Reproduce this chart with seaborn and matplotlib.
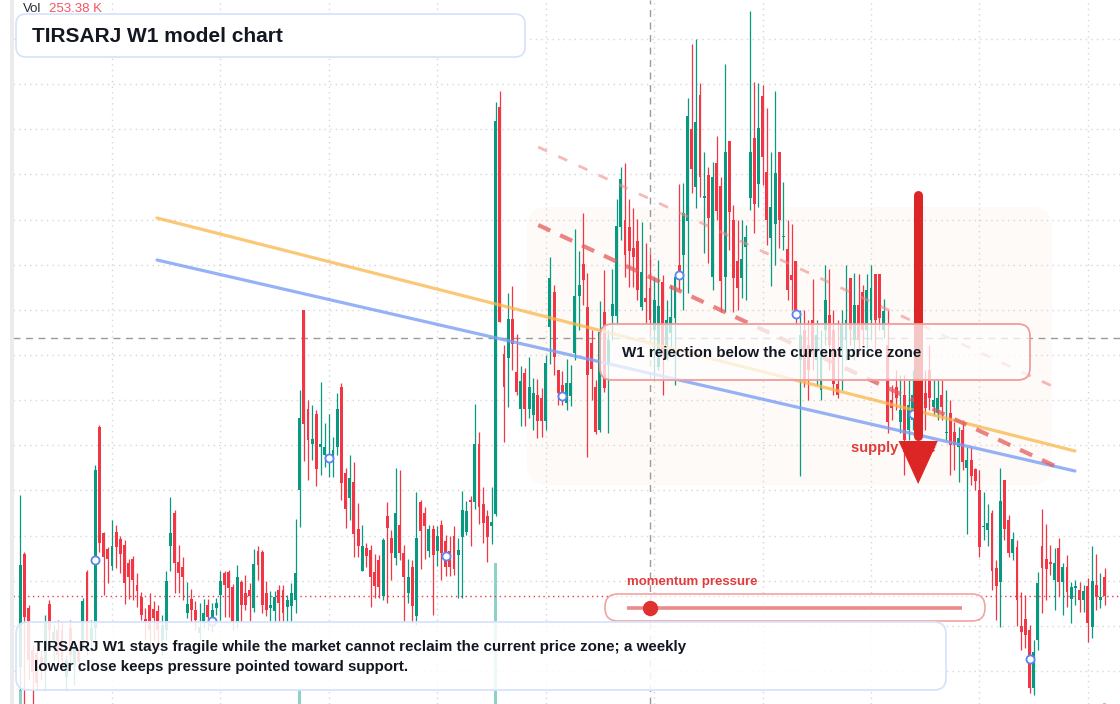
import numpy as np
import pandas as pd
import matplotlib
matplotlib.use("Agg")
import matplotlib.pyplot as plt
from matplotlib.patches import FancyBboxPatch, Rectangle
import seaborn as sns

# weekly candles
opens = [
    8.7, 20.0, 14.6, 10.4, 10.1, 9.7, 8.7, 15.0, 11.4, 12.4,
    12.4, 7.7, 12.6, 8.9, 10.4, 11.4, 18.2, 11.4, 12.6, 32.7,
    22.1, 20.5, 18.8, 22.2, 21.5, 20.9, 19.1, 19.5, 16.9, 15.7,
    13.5, 14.9, 14.5, 14.3, 11.4, 12.4, 20.8, 24.1, 19.2, 18.7,
    14.1, 15.5, 14.4, 12.1, 13.2, 14.9, 13.2, 14.6, 15.9, 18.1,
    18.2, 16.7, 13.2, 17.2, 16.1, 16.4, 14.6, 20.3, 20.2, 16.1,
    14.6, 14.3, 16.4, 16.4, 14.7, 14.8, 15.4, 26.4, 44.4, 34.5,
    31.0, 34.0, 30.7, 29.9, 29.4, 29.9, 30.7, 36.7, 28.1, 25.6,
    27.2, 22.5, 18.3, 20.6, 20.4, 18.2, 19.4, 15.8, 23.8, 21.6,
    19.6, 22.9, 20.1, 16.1, 18.7, 13.8, 25.2, 24.1, 20.3, 22.5,
    20.3, 22.9, 21.3, 20.3, 21.8, 19.9, 21.7, 22.2, 25.4, 25.2,
    31.0, 25.0, 23.8, 22.8, 24.0, 64.7, 40.0, 39.6, 43.5, 38.2,
    34.5, 38.1, 34.5, 33.9, 35.9, 35.6, 33.3, 42.7, 46.2, 38.4,
    36.9, 35.1, 35.8, 40.1, 45.8, 49.0, 44.7, 41.1, 36.7, 32.4,
    44.2, 38.9, 43.8, 43.8, 52.7, 53.4, 52.7, 50.6, 51.3, 44.7,
    45.6, 46.6, 42.4, 38.7, 47.2, 40.9, 42.1, 43.6, 48.9, 49.9,
    53.3, 62.5, 56.7, 65.9, 55.6, 57.9, 47.7, 59.1, 56.8, 47.7,
    61.3, 53.4, 49.3, 47.6, 50.7, 55.6, 61.6, 57.0, 65.8, 58.2,
    51.6, 53.0, 60.2, 51.7, 50.5, 47.9, 49.3, 39.4, 42.4, 40.9,
    43.4, 39.4, 36.4, 42.4, 43.9, 42.4, 37.0, 40.4, 41.4, 47.6,
    41.4, 44.9, 46.2, 42.4, 43.4, 48.0, 48.0, 42.4, 40.9, 35.4,
    36.7, 33.2, 35.9, 32.4, 33.4, 37.4, 37.4, 36.1, 38.4, 34.7,
    34.1, 35.9, 32.1, 34.1, 32.2, 30.7, 32.4, 28.6, 29.4, 28.5,
    26.4, 22.7, 22.4, 24.1, 18.6, 17.2, 27.4, 23.4, 20.1, 20.7,
    12.8, 13.5, 12.4, 6.6, 11.4, 20.8, 19.5, 19.2, 17.4, 20.6,
    17.2, 18.7, 15.5, 16.6, 16.4, 15.4, 16.8, 12.7, 16.9, 15.4,
    17.7,
]
highs = [
    25.9, 20.2, 14.9, 10.9, 11.4, 10.4, 13.9, 15.4, 12.9, 13.4,
    13.2, 9.9, 13.4, 11.4, 11.4, 15.6, 18.4, 13.4, 28.9, 32.9,
    22.2, 20.7, 23.4, 22.9, 21.8, 21.4, 19.5, 19.8, 18.1, 16.2,
    14.6, 16.1, 15.3, 14.9, 13.9, 18.3, 25.7, 24.4, 20.9, 19.7,
    17.2, 16.5, 15.3, 15.1, 15.5, 15.5, 15.1, 15.6, 18.3, 18.3,
    18.4, 17.0, 18.9, 17.4, 17.9, 17.1, 20.5, 20.8, 20.4, 17.3,
    16.3, 16.3, 16.9, 16.9, 15.9, 17.1, 23.5, 36.4, 44.4, 35.4,
    34.9, 34.4, 37.2, 33.1, 34.0, 31.7, 36.1, 37.1, 28.6, 29.9,
    29.2, 25.1, 22.9, 21.1, 20.9, 20.0, 19.9, 21.6, 25.2, 22.4,
    28.6, 28.4, 20.9, 19.5, 19.4, 26.2, 25.4, 24.7, 22.9, 22.9,
    22.8, 23.4, 21.9, 21.8, 22.8, 21.6, 26.3, 25.3, 25.8, 35.0,
    32.2, 26.7, 24.4, 26.7, 65.2, 66.3, 40.9, 46.1, 46.8, 42.0,
    38.8, 38.6, 39.7, 37.6, 37.5, 36.6, 39.9, 49.7, 46.9, 38.4,
    38.3, 39.5, 38.9, 52.5, 50.3, 54.1, 48.1, 42.4, 37.4, 45.3,
    48.4, 42.4, 48.5, 55.5, 58.7, 59.1, 55.5, 54.6, 53.5, 53.2,
    51.1, 50.0, 47.7, 49.4, 47.9, 45.4, 46.9, 47.7, 57.0, 57.1,
    65.6, 71.0, 71.5, 67.1, 60.2, 58.7, 59.2, 61.8, 57.7, 69.0,
    61.3, 54.9, 53.4, 53.4, 52.9, 74.3, 67.2, 67.1, 66.9, 64.6,
    60.2, 66.3, 60.2, 57.2, 53.4, 53.0, 49.3, 44.4, 44.4, 43.4,
    47.5, 43.4, 42.4, 48.9, 48.5, 44.4, 43.4, 44.4, 48.9, 47.6,
    48.1, 48.0, 46.9, 48.0, 48.9, 48.0, 48.0, 45.5, 44.4, 36.9,
    38.4, 37.9, 37.9, 37.4, 38.4, 39.4, 39.4, 38.4, 40.9, 37.4,
    37.4, 37.4, 36.4, 35.4, 33.2, 32.7, 33.4, 30.7, 30.7, 28.6,
    28.4, 26.2, 25.0, 24.4, 19.4, 28.6, 27.4, 23.9, 22.2, 21.4,
    16.2, 15.9, 12.9, 11.4, 18.2, 24.5, 23.0, 20.9, 20.6, 21.6,
    19.1, 19.9, 17.2, 17.4, 17.2, 16.9, 17.6, 20.8, 20.0, 18.1,
    18.6,
]
lows = [
    6.4, 4.8, 7.4, 4.2, 6.4, 7.4, 6.4, 11.4, 9.4, 8.9,
    8.6, 6.4, 8.9, 6.9, 8.2, 10.4, 9.9, 10.2, 11.4, 20.2,
    15.9, 17.1, 18.4, 18.6, 18.1, 15.0, 15.5, 15.4, 14.7, 13.4,
    11.4, 10.4, 11.4, 10.4, 9.9, 11.4, 18.3, 16.1, 16.1, 15.4,
    13.6, 13.2, 12.4, 11.4, 12.6, 12.4, 12.2, 13.9, 13.4, 13.7,
    13.7, 12.4, 12.6, 13.2, 14.4, 13.2, 14.2, 17.4, 14.1, 13.8,
    13.2, 13.2, 13.2, 13.2, 13.2, 13.2, 14.1, 22.7, 29.3, 27.4,
    29.4, 26.8, 27.9, 28.7, 27.7, 27.7, 29.9, 25.4, 22.6, 23.4,
    19.7, 19.7, 18.3, 18.7, 14.7, 15.6, 15.6, 15.4, 15.1, 17.4,
    18.9, 19.4, 13.2, 15.1, 13.1, 12.9, 18.5, 19.5, 19.7, 13.9,
    18.8, 17.4, 17.8, 17.8, 17.9, 15.6, 15.6, 21.9, 20.8, 24.5,
    23.0, 21.1, 19.2, 21.0, 23.8, 43.2, 31.2, 34.7, 38.4, 35.9,
    32.8, 32.8, 33.6, 32.4, 31.6, 31.7, 32.4, 39.0, 37.9, 34.9,
    34.9, 34.4, 34.8, 39.4, 42.4, 44.9, 29.7, 35.4, 32.0, 32.2,
    36.2, 32.1, 41.4, 42.9, 51.4, 47.7, 46.7, 46.7, 45.4, 44.4,
    43.1, 41.9, 37.4, 38.4, 35.9, 39.4, 40.7, 36.9, 46.4, 44.4,
    46.1, 56.1, 54.6, 55.7, 50.1, 49.1, 46.4, 53.4, 44.2, 44.2,
    50.4, 44.2, 44.4, 45.6, 45.4, 54.4, 52.1, 54.7, 56.9, 50.9,
    46.8, 48.9, 50.6, 50.4, 45.4, 44.4, 42.9, 27.8, 36.7, 35.4,
    38.4, 36.9, 35.4, 40.9, 38.4, 35.9, 35.6, 36.4, 39.4, 40.9,
    39.4, 39.9, 40.9, 40.4, 41.4, 40.4, 42.4, 41.6, 32.1, 33.4,
    34.4, 32.1, 27.9, 31.4, 32.4, 31.4, 32.9, 32.4, 34.4, 33.9,
    33.4, 33.4, 31.4, 27.9, 28.4, 27.2, 28.4, 22.0, 26.9, 26.4,
    19.7, 21.4, 20.8, 16.4, 13.4, 12.7, 21.4, 19.7, 19.4, 12.8,
    10.4, 10.6, 6.1, 5.9, 10.4, 14.1, 15.4, 17.9, 14.4, 15.8,
    13.9, 14.7, 13.1, 14.9, 14.2, 14.2, 11.2, 11.6, 14.4, 14.6,
    14.9,
]
closes = [
    18.9, 13.7, 9.4, 8.2, 7.1, 8.7, 13.2, 12.4, 12.2, 9.9,
    9.4, 9.4, 9.9, 10.6, 9.2, 15.3, 11.4, 12.6, 28.4, 21.1,
    19.7, 19.5, 20.8, 20.7, 20.0, 17.1, 17.7, 17.4, 16.3, 13.9,
    13.2, 12.4, 13.6, 12.4, 12.9, 17.3, 22.1, 19.1, 18.1, 17.7,
    15.0, 14.4, 13.4, 12.7, 14.1, 13.7, 14.4, 15.1, 17.3, 16.9,
    16.6, 13.2, 17.7, 14.9, 14.9, 15.8, 19.0, 18.9, 14.9, 14.4,
    14.9, 15.7, 15.1, 14.1, 15.4, 16.1, 18.1, 33.6, 33.0, 31.4,
    31.5, 28.5, 31.0, 30.7, 29.9, 30.4, 34.5, 27.1, 24.5, 27.6,
    22.0, 20.8, 20.8, 19.8, 17.7, 16.8, 16.7, 21.4, 22.6, 20.1,
    24.1, 20.1, 17.7, 17.7, 14.8, 21.6, 22.3, 22.8, 22.5, 19.9,
    21.8, 20.1, 18.7, 18.7, 18.5, 20.4, 24.4, 24.3, 25.2, 31.0,
    24.7, 23.1, 21.7, 23.2, 63.3, 43.2, 36.7, 43.5, 41.0, 36.2,
    37.3, 34.5, 36.7, 36.1, 33.3, 33.3, 39.1, 47.6, 39.7, 36.1,
    35.8, 37.1, 37.1, 45.8, 46.9, 47.4, 37.9, 38.5, 32.2, 42.2,
    36.6, 41.4, 45.0, 52.8, 57.5, 49.9, 50.3, 49.7, 46.4, 48.2,
    45.2, 43.4, 45.4, 44.8, 40.1, 43.4, 43.7, 47.7, 47.9, 54.1,
    63.8, 58.5, 63.2, 57.7, 55.8, 53.6, 57.7, 54.3, 47.3, 60.2,
    54.2, 47.6, 46.6, 49.5, 51.7, 60.2, 55.0, 62.6, 59.7, 53.4,
    54.7, 58.1, 53.4, 51.8, 46.4, 47.4, 44.0, 41.9, 37.4, 38.4,
    40.4, 41.9, 40.4, 45.4, 40.9, 37.0, 35.9, 42.9, 43.4, 42.4,
    44.9, 41.4, 42.4, 46.4, 46.6, 43.4, 43.6, 44.3, 33.2, 34.6,
    35.6, 34.4, 31.4, 34.9, 35.9, 33.4, 34.4, 34.6, 35.6, 35.4,
    35.6, 34.7, 32.2, 30.9, 30.9, 31.6, 29.2, 29.4, 27.8, 27.3,
    20.7, 22.8, 23.1, 18.3, 16.8, 25.3, 22.5, 20.1, 21.5, 15.4,
    12.2, 11.9, 6.6, 10.2, 17.1, 18.6, 18.5, 19.0, 19.1, 17.2,
    18.7, 16.2, 16.7, 16.8, 15.4, 16.3, 13.1, 17.3, 15.7, 15.7,
    15.8,
]

# volume (thousands) of the bars that show at the bottom
vol_idx = [0, 67, 114, 260]
vol_k = [3900, 3800, 38500, 253.38]

# blue ring markers
marker_idx = [18, 46, 74, 102, 130, 158, 186, 214, 242]
marker_vals = [19.4, 13.3, 29.6, 19.8, 35.8, 47.9, 44.0, 34.0, 9.5]

# overlay lines: bar index ends / price ends
orange_x, orange_y = [32.8, 252.9], [53.6, 30.3]
blue_x, blue_y = [32.8, 252.9], [49.4, 28.3]
res_x, res_y = [124.2, 248.1], [52.9, 28.8]
res2_x, res2_y = [124.2, 247.4], [60.7, 36.8]
zone_x, zone_y = [121.5, 247.4], [26.9, 54.7]

cross_idx, cross_price = 151, 41.6

GREEN = "#089981"
RED = "#f23645"
INK = "#131722"

sns.set_style("white")
plt.rcParams["font.family"] = ["Liberation Sans", "DejaVu Sans"]

df = pd.DataFrame({"o": opens, "h": highs, "l": lows, "c": closes})
df["i"] = np.arange(len(df))
df["up"] = df["c"] >= df["o"]
df["col"] = np.where(df["up"], GREEN, RED)

fig = plt.figure(figsize=(11.2, 7.04), dpi=100)
ax = fig.add_axes([13 / 1120, 0, 1107 / 1120, 1])
ax.set_xlim(-1.74, 263.7)
ax.set_ylim(5.0, 75.4)

# volume on its own scale, behind the candles
ax2 = ax.twinx()
ax2.set_ylim(0, max(vol_k) * 5)
vcol = [df["col"][i] for i in vol_idx]
ax2.bar(vol_idx, vol_k, width=0.68, color=vcol, alpha=0.45, linewidth=0)
ax2.axis("off")
ax.set_zorder(ax2.get_zorder() + 1)
ax.patch.set_visible(False)

# grid
ax.set_xticks(np.arange(22, 262, 26))
ax.set_yticks([8.3 + 4.514 * k for k in range(15)])
ax.grid(True, color="#d6d6d6", lw=1, ls=(0, (1, 3)))
ax.tick_params(length=0, labelleft=False, labelbottom=False)
for s in ax.spines.values():
    s.set_visible(False)

# zone
ax.add_patch(FancyBboxPatch((zone_x[0], zone_y[0]), zone_x[1] - zone_x[0], zone_y[1] - zone_y[0],
                            boxstyle="round,pad=0,rounding_size=5", mutation_aspect=0.42,
                            facecolor="#fcf1e7", edgecolor="none", alpha=0.33, zorder=0.5))

# crosshair + last price
ax.axvline(cross_idx, color="#9a9a9a", lw=1, ls=(0, (5, 4)), zorder=1)
ax.axhline(cross_price, color="#9a9a9a", lw=1, ls=(0, (5, 4)), zorder=1)
ax.axhline(closes[-1], color=RED, lw=1, ls=(0, (1, 2.5)), zorder=1)

# candles
ax.vlines(df["i"], df["l"], df["h"], colors=df["col"], lw=0.9, zorder=2)
body = (df["c"] - df["o"]).abs().clip(lower=0.15)
ax.bar(df["i"], body, bottom=df[["o", "c"]].min(axis=1), width=0.7,
       color=df["col"], linewidth=0, zorder=2)

# overlays
sns.lineplot(x=orange_x, y=orange_y, ax=ax, color="#f9b648", lw=2.3, alpha=0.75, zorder=3)
sns.lineplot(x=blue_x, y=blue_y, ax=ax, color="#7b9ff5", lw=2.3, alpha=0.8, zorder=3)
ax.plot(res_x, res_y, color="#e55b5b", lw=3, alpha=0.75, dashes=(3.2, 2.6), zorder=3)
ax.plot(res2_x, res2_y, color="#f08a8a", lw=2, alpha=0.6, dashes=(3.5, 4.5), zorder=3)
ax.scatter(marker_idx, marker_vals, s=34, facecolor="white", edgecolor="#5a84f0",
           linewidth=1.3, zorder=4)

ax.text(199.2, 30.6, "supply zone", color="#e23b3b", fontsize=10.5, fontweight="bold",
        ha="left", va="center", zorder=5)

# big down arrow
ax.plot([215.3, 215.3], [55.9, 31.8], color="#dc2626", lw=6.5, solid_capstyle="round", zorder=6)
ax.fill([210.6, 220.0, 215.3], [31.3, 31.3, 27.0], color="#dc2626", lw=0, zorder=6)

# figure-level boxes, positioned in pixels, drawn over the axes
T = fig.dpi_scale_trans


def box(x, y, w, h, r, fc, ec, lw=1.2):
    p = FancyBboxPatch((x / 100, (704 - y - h) / 100), w / 100, h / 100,
                       boxstyle=f"round,pad=0,rounding_size={r / 100}", transform=T,
                       facecolor=fc, edgecolor=ec, lw=lw, zorder=10)
    fig.add_artist(p)


def label(x, y, s, **kw):
    fig.text(x / 100, (704 - y) / 100, s, transform=T, zorder=12, **kw)


fig.add_artist(Rectangle((9.5 / 100, 0), 4 / 100, 7.04, transform=T, color="#ebebeb", lw=0, zorder=10))

box(16, 14, 509, 43, 10, (1, 1, 1, 0.96), "#d4e2fa")
label(32, 36, "TIRSARJ W1 model chart", fontsize=15, fontweight="bold", color=INK, va="center")
label(23, 8.5, "Vol", fontsize=9.5, color="#2a2e39", va="center")
label(49, 8.5, "253.38 K", fontsize=9.5, color="#f7525f", va="center")

box(600, 324, 430, 56, 12, (1, 1, 1, 0.74), "#f09c9c", lw=1.3)
label(622, 353, "W1 rejection below the current price zone", fontsize=10.9, fontweight="bold",
      color=INK, va="center")

label(627, 582, "momentum pressure", fontsize=9.5, fontweight="bold", color="#e23b3b", va="center")
box(605, 594, 380, 27, 13, (1, 1, 1, 0.8), "#f2a3a3", lw=1.2)
fig.add_artist(plt.Line2D([6.27, 9.62], [(704 - 607.5) / 100] * 2, transform=T,
                          color="#ec8a8a", lw=2.6, solid_capstyle="butt", zorder=11))
fig.add_artist(plt.Line2D([6.50], [(704 - 607.5) / 100], transform=T, marker="o",
                          markersize=10, color="#e03131", lw=0, zorder=11))

box(16, 622, 930, 68, 12, (1, 1, 1, 0.86), "#d6e4fb", lw=1.3)
label(34, 647, "TIRSARJ W1 stays fragile while the market cannot reclaim the current price zone; a weekly",
      fontsize=10.9, fontweight="bold", color=INK, va="center")
label(34, 667, "lower close keeps pressure pointed toward support.",
      fontsize=10.9, fontweight="bold", color=INK, va="center")

fig.savefig("out.png", dpi=100, facecolor="white")
